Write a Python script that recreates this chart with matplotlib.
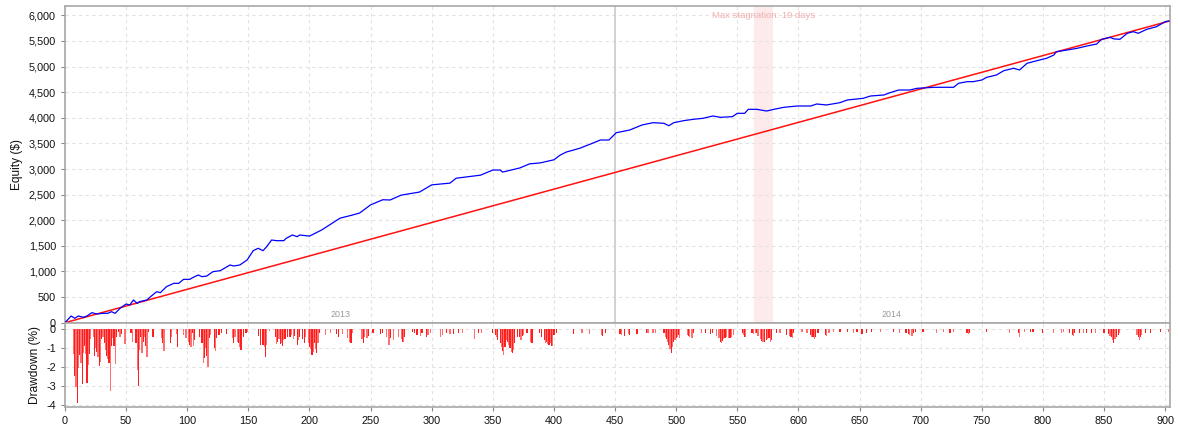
import matplotlib
matplotlib.use('Agg')
import matplotlib.pyplot as plt
from matplotlib.ticker import FuncFormatter, MultipleLocator

plt.rcParams['font.family'] = ['Liberation Sans', 'DejaVu Sans']
plt.rcParams['axes.unicode_minus'] = False

# ---------------- data ----------------
eq_trade = [0, 5, 8, 11, 15, 18, 22, 26, 31, 35, 38, 41, 45, 50, 53, 56, 59, 61, 67, 70,
            75, 78, 83, 89, 93, 97, 102, 105, 109, 112, 116, 121, 127, 135, 138, 143, 149,
            154, 158, 162, 165, 169, 173, 179, 181, 186, 190, 192, 200, 210, 220, 225, 235,
            241, 250, 260, 266, 275, 290, 300, 315, 320, 340, 350, 356, 358, 372, 380, 389,
            400, 405, 410, 421, 430, 438, 445, 451, 462, 472, 481, 490, 494, 498, 506, 514,
            522, 530, 536, 546, 550, 556, 559, 566, 574, 580, 588, 599, 610, 615, 623, 634,
            640, 653, 659, 670, 675, 682, 691, 697, 711, 727, 731, 738, 743, 750, 754, 762,
            768, 776, 781, 787, 795, 803, 809, 811, 820, 828, 836, 844, 848, 855, 858, 863,
            869, 874, 878, 885, 893, 900, 903]
eq_value = [0, 131, 86, 131, 105, 131, 196, 170, 183, 183, 215, 183, 280, 365, 345, 443, 378,
            410, 443, 508, 605, 586, 703, 768, 768, 846, 846, 886, 931, 898, 911, 996, 1015,
            1126, 1107, 1126, 1224, 1406, 1452, 1406, 1484, 1614, 1601, 1601, 1647, 1712, 1679,
            1712, 1690, 1810, 1965, 2040, 2100, 2140, 2300, 2400, 2395, 2490, 2550, 2690, 2725,
            2820, 2880, 2980, 2980, 2940, 3020, 3100, 3120, 3180, 3270, 3330, 3404, 3488, 3566,
            3566, 3709, 3761, 3859, 3904, 3892, 3845, 3904, 3943, 3970, 3990, 4035, 4009, 4022,
            4087, 4087, 4165, 4165, 4132, 4165, 4204, 4230, 4230, 4269, 4250, 4295, 4347, 4380,
            4425, 4445, 4490, 4542, 4542, 4575, 4595, 4595, 4673, 4705, 4705, 4737, 4790, 4835,
            4919, 4966, 4933, 5063, 5114, 5161, 5225, 5290, 5323, 5356, 5401, 5440, 5532, 5571,
            5540, 5532, 5649, 5681, 5649, 5727, 5778, 5876, 5889]

trend_trade = [0, 903]
trend_value = [0, 5885]

dd_trade = [7, 8, 9, 10, 11, 12, 13, 14, 15, 16, 17, 18, 19, 20, 21,
            23, 24, 25, 26, 27, 28, 29, 30, 31, 32, 33, 34, 35, 36, 37, 38, 39, 40, 41, 42,
            44, 45, 46, 49, 54, 55, 58, 59, 60, 61, 62, 63, 64, 65, 66, 67, 68, 72, 79, 80,
            81, 86, 87, 91, 92, 97, 99, 101, 102, 103, 104, 105, 106, 110, 112, 113, 114, 115,
            116, 117, 118, 119, 122, 123, 124, 126, 128, 132, 137, 138, 139, 141, 142, 143,
            144, 146, 148, 149, 158, 160, 162, 163, 164, 165, 167, 172, 173, 174, 175, 176,
            177, 178, 179, 180, 182, 184, 185, 187, 188, 190, 191, 192, 194, 196, 197, 199,
            200, 201, 202, 203, 204, 205, 206, 207, 208, 213, 217, 222, 224, 227, 231, 233,
            234, 235, 243, 244, 245, 247, 248, 252, 258, 260, 263, 265, 266, 269, 273,
            275, 276, 277, 278, 284, 286, 288, 291, 292, 296, 297, 299, 307, 309, 312, 315,
            318, 322, 325, 335, 338, 341, 350, 352, 353, 354, 356, 357, 358, 359, 360, 361,
            362, 363, 364, 365, 366, 367, 368, 370, 372, 373, 374, 375, 378, 381, 382, 388,
            390, 392, 393, 394, 395, 396, 397, 398, 399, 400, 402, 416, 423, 429, 439, 440,
            442, 454, 455, 458, 461, 462, 468, 476, 477, 481, 483, 490, 491, 492, 493, 494,
            495, 496, 497, 498, 499, 500, 501, 502, 503, 509, 510, 511, 513, 514, 521, 524,
            528, 530, 533, 535, 536, 537, 538, 539, 540, 541, 543, 544, 545, 547, 554, 555,
            556, 557, 562, 563, 565, 566, 567, 569, 570, 571, 572, 574, 575, 576, 577, 578,
            582, 585, 590, 593, 594, 595, 596,
            603, 607, 610, 611, 612, 613, 614, 616, 622, 623, 625, 629, 634, 640, 645, 648,
            652, 656, 660, 667, 678, 683, 688, 690, 691, 693, 694, 696, 702, 713, 719, 724,
            727, 738, 739, 740, 754, 773, 780, 781, 785, 790, 792, 800, 809, 815, 817, 822,
            824, 825, 826, 830, 833, 836, 840, 843, 850, 854, 855, 856, 857, 858, 859, 860,
            862, 863, 877, 878, 879, 880, 881, 884, 888, 896, 903]
dd_pct = [-1.32, -2.46, -3.05, -3.86, -2.05, -1.35, -1.75, -2.9, -1.26, -0.9, -1.3, -2.8, -1.9, -1.3, -0.5,
          -0.4, -1.4, -1.0, -1.2, -1.45, -1.95, -1.7, -0.5, -0.38, -0.74, -1.1, -1.4, -1.55, -1.75, -3.23,
          -0.9, -0.47, -0.88, -1.8, -0.4,
          -0.12, -0.42, -0.25, -0.79, -0.21, -0.65, -0.74, -2.14, -2.98, -1.09, -0.39, -1.26, -0.65, -0.39,
          -0.9, -1.44, -0.12, -0.42, -0.47, -0.74,
          -1.12, -0.7, -0.39, -0.26, -0.91, -0.3, -0.47, -0.65, -0.83, -0.91, -0.21, -0.88, -0.56, -0.39,
          -0.74, -1.79, -1.49, -1.0,
          -1.4, -2.0, -0.47, -0.3, -1.0, -1.12, -0.47, -0.3, -0.21, -0.25, -0.47, -0.7, -0.39, -0.65,
          -0.74, -0.95,
          -1.09, -0.39, -0.21, -0.12, -0.35, -0.82, -0.82, -0.91, -1.47, -0.82, -0.07, -0.39, -0.79,
          -0.65, -0.53, -0.77,
          -0.7, -0.88, -0.56, -0.53, -0.39, -0.39, -0.3, -0.53, -0.35, -0.82, -0.56, -0.39, -0.53,
          -0.74, -0.39, -0.74,
          -0.91, -1.05, -1.35, -1.18, -0.74, -1.05, -1.26, -0.74, -0.21, -0.3, -0.21, -0.26, -0.39,
          -0.25, -0.47, -0.65,
          -0.74, -0.21, -0.53, -0.74, -0.39, -0.47, -0.35, -0.21, -0.26, -0.21, -0.39, -0.82, -0.47,
          -0.56, -0.39,
          -0.5, -0.65, -0.65, -0.4, -0.12, -0.21, -0.3, -0.35, -0.21, -0.39, -0.3, -0.21, -0.39,
          -0.3, -0.21, -0.25,
          -0.25, -0.21, -0.18, -0.53, -0.21, -0.18, -0.21, -0.3, -0.42, -0.56, -0.74, -0.91, -1.12,
          -1.35, -0.91, -0.56,
          -0.65, -0.82, -1.0, -1.18, -1.23, -1.09, -0.74, -0.39, -0.42, -0.56, -0.35, -0.3, -0.21,
          -0.65, -0.74, -0.21,
          -0.39, -0.56, -0.7, -0.65, -0.77, -0.82, -0.74, -0.88, -0.88, -0.3, -0.21, -0.26, -0.18,
          -0.26, -0.3, -0.35,
          -0.21, -0.26, -0.3, -0.35, -0.25, -0.3, -0.26, -0.21, -0.18, -0.21, -0.18, -0.21, -0.39,
          -0.53, -0.65, -0.82,
          -1.05, -1.26, -0.91, -0.65, -0.56, -0.47, -0.39, -0.3, -0.47, -0.3, -0.35, -0.42, -0.47,
          -0.21, -0.18, -0.21,
          -0.26, -0.21, -0.35, -0.47, -0.65, -0.7, -0.6, -0.53, -0.47, -0.39, -0.47, -0.47, -0.42,
          -0.3, -0.18, -0.3,
          -0.39, -0.42, -0.21, -0.26, -0.18, -0.21, -0.35, -0.53, -0.6, -0.65, -0.65, -0.56, -0.53,
          -0.47, -0.65, -0.56,
          -0.21, -0.21, -0.3, -0.35, -0.42, -0.47, -0.21,
          -0.12, -0.21, -0.3, -0.39, -0.42, -0.53, -0.39, -0.21, -0.3, -0.35, -0.21, -0.12, -0.12,
          -0.12, -0.18, -0.12,
          -0.25, -0.18, -0.12, -0.16, -0.12, -0.18, -0.21, -0.26, -0.3, -0.35, -0.21, -0.12, -0.12,
          -0.18, -0.12, -0.18,
          -0.12, -0.21, -0.25, -0.18, -0.12, -0.21, -0.21, -0.42, -0.12, -0.12, -0.12, -0.18, -0.21,
          -0.21, -0.12, -0.21,
          -0.3, -0.35, -0.21, -0.18, -0.21, -0.18, -0.21, -0.18, -0.18, -0.25, -0.35, -0.42, -0.56,
          -0.7, -0.53, -0.42,
          -0.3, -0.21, -0.3, -0.42, -0.56, -0.39, -0.3, -0.21, -0.18, -0.12, -0.12]

year_labels = ['2013', '2014']
year_label_pos = [225, 676]
year_split = 450
stagnation_span = [564, 579]
stagnation_text = 'Max stagnation: 19 days'

# ---------------- figure ----------------
fig = plt.figure(figsize=(11.78, 4.28), dpi=100)
fig.patch.set_facecolor('white')
L, W = 65 / 1178, (1170 - 65) / 1178
ax1 = fig.add_axes([L, 1 - 323.3 / 428, W, (323.3 - 6) / 428])
ax2 = fig.add_axes([L, 1 - 407.3 / 428, W, (407.3 - 323.3) / 428])

spine_c = '#a8a8a8'
grid_kw = dict(color='#e2e2e2', linestyle=(0, (3, 3)), linewidth=0.8)

for ax in (ax1, ax2):
    for s in ax.spines.values():
        s.set_color(spine_c)
        s.set_linewidth(1.2)
    ax.set_xlim(0, 904)
    ax.xaxis.set_major_locator(MultipleLocator(50))
    ax.grid(True, **grid_kw)
    ax.set_axisbelow(True)
    ax.tick_params(colors='#888888', labelcolor='#111111', labelsize=7.8, length=3, width=0.8)

# equity panel
ax1.axvspan(stagnation_span[0], stagnation_span[1], color='#fdeaea', zorder=0.5, lw=0)
ax1.axvline(year_split, color='#cccccc', lw=1.2, zorder=0.6)
ax1.plot(trend_trade, trend_value, color='#ff1010', lw=1.1, zorder=3)
ax1.plot(eq_trade, eq_value, color='#0000ff', lw=0.9, zorder=4)
ax1.set_ylim(-12, 6182)
ax1.yaxis.set_major_locator(MultipleLocator(500))
ax1.yaxis.set_major_formatter(FuncFormatter(lambda v, p: f'{int(v):,}'))
ax1.tick_params(axis='x', labelbottom=False, length=0)
ax1.set_ylabel('Equity ($)', fontsize=8.6, color='#111111', labelpad=4)
for lab, pos in zip(year_labels, year_label_pos):
    ax1.text(pos, 165, lab, ha='center', va='center', fontsize=6.4, color='#999999')
ax1.text(sum(stagnation_span) / 2, 6006, stagnation_text, ha='center', va='center',
         fontsize=6.8, color='#f4b0b0')

# drawdown panel
colors = ['#ff1e1e' if t % 2 == 0 else '#ff7070' for t in dd_trade]
ax2.bar(dd_trade, dd_pct, width=1.0, color=colors, linewidth=0, zorder=3)
ax2.set_ylim(-4.105, 0.316)
ax2.set_yticks([0, -1, -2, -3, -4])
ax2.set_ylabel('Drawdown (%)', fontsize=8.6, color='#111111', labelpad=4)

fig.savefig('out.png', dpi=100, facecolor='white')
